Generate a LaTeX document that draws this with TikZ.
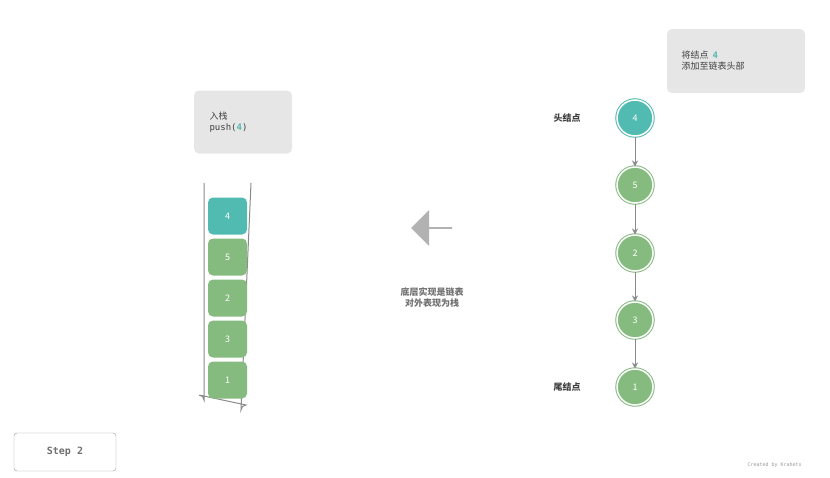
\documentclass[tikz,border=0pt]{standalone}
\usepackage{fontspec}
\setmainfont{Noto Sans CJK SC}
\setmonofont{DejaVu Sans Mono}
\usetikzlibrary{arrows.meta,shapes.arrows}
\definecolor{teal}{HTML}{52BBB1}
\definecolor{leaf}{HTML}{86BB80}
\definecolor{note}{HTML}{E6E6E6}
\definecolor{txt}{HTML}{404040}
\definecolor{hint}{HTML}{707070}
\definecolor{link}{HTML}{8A8A8A}
\tikzset{
  block/.style={rounded corners=5pt,minimum width=39pt,minimum height=37pt,text=white,font=\small},
  lnode/.style={circle,minimum size=36pt,text=white,font=\small,double=white,double distance=1.5pt,line width=1pt},
  notebox/.style={fill=note,rounded corners=5pt,align=left,text=txt,font=\small,inner sep=0pt},
  link/.style={draw=link,line width=1pt,-{Stealth[length=6pt,width=6pt]}}
}
\begin{document}
\begin{tikzpicture}[x=1pt,y=-1pt]
\useasboundingbox (0,0) rectangle (830,477);
%栈
\node[notebox,minimum width=98pt,minimum height=63pt] (pushbox) at (243,122) {};
\node[anchor=west,text=txt,font=\small,align=left] (pushtxt) at (206,122) {入栈\\\ttfamily push(\textbf{\color{teal}4})};
\draw[link,-] (204,183) -- (204,400) arc(180:90:-5) -- (246,405) arc(90:0:-5) -- (251,183);
\foreach \v/\y/\c in {4/216/teal,5/257/leaf,2/298/leaf,3/339/leaf,1/380/leaf}
  \node[block,fill=\c] (s\v) at (227.5,\y) {\v};
%中间
\node[single arrow,fill=black!30,shape border rotate=180,minimum height=41pt,minimum width=36pt,single arrow head extend=4pt,inner sep=0pt] (arrow) at (432,228) {};
\node[font=\bfseries\small,text=hint,align=center] (hinttxt) at (432,298) {底层实现是链表\\对外表现为栈};
%链表
\foreach \v/\y/\c in {4/118/teal,5/185/leaf,2/253/leaf,3/320/leaf,1/387/leaf}
  \node[lnode,draw=\c,fill=\c] (n\v) at (635,\y) {\v};
\draw[link] (n4) -- (n5);
\draw[link] (n5) -- (n2);
\draw[link] (n2) -- (n3);
\draw[link] (n3) -- (n1);
\node[font=\bfseries\small,text=txt] (head) at (567,118) {头结点};
\node[font=\bfseries\small,text=txt] (tail) at (567,387) {尾结点};
\node[notebox,minimum width=138pt,minimum height=64pt] (addbox) at (736,61) {};
\node[anchor=west,text=txt,font=\small,align=left] (addtxt) at (678,61) {将结点 \ \textbf{\ttfamily\color{teal}4}\\添加至链表头部};
%Step
\node[draw=black!40,fill=white,rounded corners=3pt,minimum width=102pt,minimum height=38pt,font=\ttfamily\bfseries,text=hint] (step) at (65,452) {Step 2};
\node[anchor=west,font=\ttfamily\tiny,text=black!40] (credit) at (744,465) {Created by Krahets};
\end{tikzpicture}
\end{document}
